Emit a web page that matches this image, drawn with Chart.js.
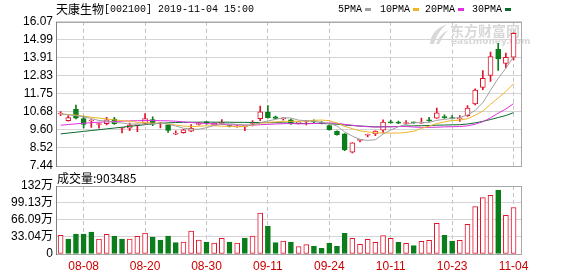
<!DOCTYPE html>
<html>
<head>
<meta charset="utf-8">
<script src="https://cdn.jsdelivr.net/npm/chart.js@4/dist/chart.umd.min.js"></script>
<style>
  body { margin: 0; background: #fff; width: 578px; height: 276px; overflow: hidden; position: relative; }
  canvas { position: absolute; left: 0; }
  #kline { top: 0; }
  #volume { top: 168px; }
</style>
</head>
<body>
<canvas id="kline" width="578" height="178"></canvas>
<canvas id="volume" width="578" height="108"></canvas>
<script>
// 天康生物 002100, daily bars 2019-08-05 .. 2019-11-04
const dates = ['08-05','08-06','08-07','08-08','08-09','08-12','08-13','08-14','08-15','08-16',
  '08-19','08-20','08-21','08-22','08-23','08-26','08-27','08-28','08-29','08-30',
  '09-02','09-03','09-04','09-05','09-06','09-09','09-10','09-11','09-12','09-16',
  '09-17','09-18','09-19','09-20','09-23','09-24','09-25','09-26','09-27','09-30',
  '10-08','10-09','10-10','10-11','10-14','10-15','10-16','10-17','10-18','10-21',
  '10-22','10-23','10-24','10-25','10-28','10-29','10-30','10-31','11-01','11-04'];
const tickDates = ['08-08','08-20','08-30','09-11','09-24','10-11','10-23','11-04'];

const open  = [10.55,10.15,10.83,10.28,10.13, 9.92, 9.97,10.25, 9.70, 9.70,
  9.88, 9.98,10.22, 9.95, 9.88, 9.34, 9.43, 9.52, 9.93,10.05,
  9.90, 9.98, 9.85, 9.78, 9.78, 9.98,10.27,10.66,10.38,10.25,
  10.20,10.00,10.10,10.12,10.05, 9.85, 9.52, 9.36, 8.26, 8.97,
  9.28, 9.36, 9.58,10.06,10.05, 9.98,10.05,10.00,10.18,10.30,
  10.40,10.33,10.25,10.45,11.15,12.14,12.85,14.42,13.58,13.95];
const high  = [10.70,10.45,11.08,10.42,10.22,10.00,10.35,10.35, 9.76,10.00,
  9.95,10.58,10.38,10.05, 9.92, 9.55, 9.64, 9.92,10.05,10.10,
  10.02,10.22, 9.87, 9.86, 9.84,10.15,11.03,11.05,10.42,10.33,
  10.25,10.08,10.17,10.20,10.10, 9.90, 9.55, 9.38, 8.84, 9.02,
  9.35, 9.55,10.20,10.18,10.12,10.15,10.07,10.30,10.35,10.90,
  10.50,10.45,10.45,11.05,12.05,13.15,14.25,14.78,14.20,15.40];
const low   = [10.45,10.12,10.25, 9.72, 9.75, 9.70, 9.90, 9.93, 9.42, 9.55,
  9.50, 9.95, 9.85, 9.72, 9.45, 9.32, 9.40, 9.50, 9.88, 9.92,
  9.86, 9.95, 9.78, 9.76, 9.55, 9.83,10.15,10.30,10.25,10.18,
  9.92, 9.95, 9.90,10.02, 9.95, 9.58, 9.28, 8.36, 8.22, 8.88,
  9.18, 9.26, 9.42,10.00, 9.97, 9.95, 9.98, 9.98,10.10,10.28,
  10.28,10.25,10.10,10.40,11.10,12.00,12.50,13.15,13.30,13.78];
const close = [10.60,10.33,10.30, 9.92,10.17, 9.97,10.20, 9.97, 9.74, 9.88,
  9.92,10.28, 9.95,10.00, 9.57, 9.37, 9.60, 9.70, 9.96,10.02,
  9.99,10.05, 9.80, 9.81, 9.82,10.05,10.68,10.33,10.28,10.29,
  9.97,10.05,10.15,10.08,10.00, 9.62, 9.32, 8.40, 8.82, 9.00,
  9.32, 9.53,10.07,10.02,10.00,10.02,10.02,10.05,10.14,10.62,
  10.33,10.28,10.30,10.90,11.98,12.68,13.98,13.85,13.94,15.38];

const ma5  = [10.55,10.50,10.45,10.38,10.28,10.16,10.13,10.05,10.01, 9.95,
  9.94, 9.96, 9.95,10.01, 9.94, 9.83, 9.70, 9.65, 9.64, 9.73,
  9.86, 9.95, 9.97, 9.93, 9.89, 9.90,10.03,10.13,10.23,10.33,
  10.31,10.18,10.15,10.11,10.05, 9.98, 9.83, 9.48, 9.23, 9.03,
  8.97, 9.01, 9.35, 9.59, 9.79, 9.93,10.03,10.03,10.05,10.17,
  10.23,10.29,10.34,10.49,10.76,11.23,11.97,12.68,13.29,13.97];
const ma10 = [10.55,10.52,10.48,10.42,10.36,10.30,10.25,10.20,10.15,10.12,
  10.05,10.05,10.00,10.01, 9.95, 9.89, 9.83, 9.80, 9.82, 9.84,
  9.85, 9.82, 9.81, 9.79, 9.81, 9.88, 9.99,10.05,10.08,10.11,
  10.11,10.11,10.14,10.17,10.19,10.15,10.01, 9.82, 9.67, 9.54,
  9.48, 9.42, 9.42, 9.41, 9.41, 9.45, 9.52, 9.69, 9.82, 9.98,
  10.08,10.16,10.18,10.27,10.47,10.73,11.13,11.51,11.89,12.36];
const ma20 = [9.88, 9.92, 9.96,10.00,10.03,10.06,10.08,10.10,10.12,10.14,
  10.15,10.16,10.16,10.15,10.14,10.12,10.08,10.04,10.01, 9.98,
  9.95, 9.93, 9.90, 9.90, 9.88, 9.88, 9.91, 9.93, 9.95, 9.97,
  9.98, 9.96, 9.97, 9.98,10.00,10.01,10.00, 9.93, 9.88, 9.82,
  9.79, 9.77, 9.78, 9.79, 9.80, 9.80, 9.77, 9.75, 9.75, 9.76,
  9.78, 9.79, 9.80, 9.84, 9.94,10.09,10.32,10.60,10.85,11.17];
const ma30 = [9.36, 9.41, 9.46, 9.51, 9.56, 9.61, 9.66, 9.71, 9.76, 9.81,
  9.86, 9.91, 9.96,10.00,10.02,10.04,10.05,10.06,10.06,10.07,
  10.06,10.06,10.06,10.05,10.05,10.04,10.04,10.03,10.03,10.02,
  10.00, 9.99, 9.98, 9.99, 9.98, 9.97, 9.94, 9.89, 9.86, 9.83,
  9.81, 9.78, 9.79, 9.79, 9.80, 9.83, 9.84, 9.85, 9.86, 9.88,
  9.89, 9.90, 9.91, 9.95,10.02,10.11,10.22,10.34,10.46,10.63];

// volume in 万 shares, and whether the volume bar is drawn as an up (hollow red) bar
const volume = [36.2,29.1,38.8,38.8,42.7,29.1,38.2,34.9,29.1,29.1,
  34.3,40.8,33.0,27.2,34.9,22.0,23.3,44.6,27.2,23.3,
  21.4,30.4,23.3,21.4,31.1,34.9,79.6,54.3,22.0,25.2,
  23.3,14.2,18.1,14.9,11.0,20.7,14.9,40.1,30.4,18.8,
  28.5,22.6,35.6,30.4,22.6,20.7,16.2,24.6,26.5,59.5,
  36.2,25.2,26.5,57.6,91.9,109.3,113.9,124.2,75.1,90.3485];
const volumeUp = [1,0,0,0,0,1,1,0,0,1, 1,1,0,0,0,0,1,1,1,0, 1,1,0,1,0,1,1,0,0,1,
  0,1,1,0,0,0,0,0,1,1, 1,1,1,1,0,1,0,1,1,1, 0,0,1,1,1,1,1,0,1,1];
const lastVolume = 903485;

const priceTicks = [7.44, 8.52, 9.60, 10.68, 11.75, 12.83, 13.91, 14.99, 16.07];
const priceTickLabels = ['7.44','8.52','9.60','10.68','11.75','12.83','13.91','14.99','16.07'];
const volumeTicks = [0, 33.04, 66.09, 99.13, 132];
const volumeTickLabels = ['0','33.04万','66.09万','99.13万','132万'];

const title = '天康生物[002100] 2019-11-04 15:00';
const maNames = ['5PMA', '10PMA', '20PMA', '30PMA'];
const maColors = ['#a0a0a0', '#f0b428', '#e030e0', '#0b6b2e'];

const RED = '#e0142c';
const GREEN = '#0b7d1b';
const GRID = '#d4d4d4';
const VGRID = '#c4c4c4';

Chart.defaults.font.family = '"Liberation Sans", "Noto Sans CJK SC", sans-serif';
Chart.defaults.font.size = 12;
Chart.defaults.color = '#000';

const xTicksFromDates = scale => {
  scale.ticks = tickDates.map(d => ({ value: dates.indexOf(d) }));
};

const frame = {
  id: 'frame',
  beforeDatasetsDraw(chart) {
    const { ctx, chartArea: a } = chart;
    ctx.save();
    ctx.strokeStyle = '#a8a8a8';
    ctx.lineWidth = 1;
    ctx.strokeRect(Math.round(a.left) + 0.5, Math.round(a.top) + 0.5,
      Math.round(a.right - a.left) - 1, Math.round(a.bottom - a.top));
    ctx.strokeStyle = '#808080';
    ctx.beginPath();
    ctx.moveTo(Math.round(a.left) + 0.5, Math.round(a.top));
    ctx.lineTo(Math.round(a.left) + 0.5, Math.round(a.bottom) + 1);
    ctx.stroke();
    ctx.restore();
  }
};

const header = {
  id: 'header',
  beforeDatasetsDraw(chart) {
    // eastmoney watermark: swoosh + name
    const ctx = chart.ctx;
    ctx.save();
    ctx.fillStyle = '#d8d8d8';
    ctx.beginPath();
    ctx.moveTo(430, 44);
    ctx.quadraticCurveTo(431, 30, 447, 24);
    ctx.quadraticCurveTo(437, 32, 434, 44);
    ctx.closePath();
    ctx.fill();
    ctx.beginPath();
    ctx.moveTo(436, 44);
    ctx.quadraticCurveTo(440, 34, 448, 30);
    ctx.quadraticCurveTo(442, 37, 439, 44);
    ctx.closePath();
    ctx.fill();
    ctx.textBaseline = 'middle';
    ctx.font = 'bold 14px "Noto Sans CJK SC"';
    ctx.fillText('东方财富网', 450, 31);
    ctx.font = 'bold 9px "DejaVu Sans"';
    ctx.fillText('eastmoney.com', 451, 42);
    ctx.restore();
  },
  afterDraw(chart) {
    const ctx = chart.ctx;
    ctx.save();
    ctx.fillStyle = '#000';
    ctx.textBaseline = 'middle';
    ctx.font = '12px "Noto Sans CJK SC"';
    const name = title.slice(0, 4);
    ctx.fillText(name, 56, 9);
    ctx.font = '10px "Liberation Mono"';
    ctx.fillText(title.slice(4), 104, 9.5);
    const xs = [338, 380, 425, 472];
    maNames.forEach((n, i) => {
      ctx.fillStyle = '#000';
      ctx.fillText(n, xs[i], 9.5);
      const w = ctx.measureText(n).width;
      ctx.fillStyle = maColors[i];
      ctx.fillRect(Math.round(xs[i] + w + 3), 8, 6, 3);
    });
    ctx.restore();
  }
};

const volumeHeader = {
  id: 'volumeHeader',
  afterDraw(chart) {
    const ctx = chart.ctx;
    ctx.save();
    ctx.fillStyle = '#000';
    ctx.textBaseline = 'middle';
    ctx.font = '12px "Noto Sans CJK SC"';
    ctx.fillText('成交量:' + lastVolume, 57, 10);
    ctx.restore();
  }
};

const isUp = i => close[i] >= open[i];

const maLine = (values, i) => ({
  type: 'line',
  label: maNames[i],
  data: values.map((v, k) => ({ x: k, y: v })),
  borderColor: maColors[i],
  borderWidth: 1,
  pointRadius: 0,
  tension: 0,
  order: 1
});

const dateAxis = showLabels => ({
  type: 'linear',
  offset: false,
  min: -0.6,
  max: 60.1,
  afterBuildTicks: xTicksFromDates,
  afterFit: s => { s.height = showLabels ? 22 : 0; },
  ticks: {
    display: showLabels,
    callback: v => dates[v],
    color: '#cc0000',
    padding: 5,
    maxRotation: 0,
    autoSkip: false
  },
  grid: { color: VGRID, drawTicks: false, offset: false },
  border: { display: false, dash: [4, 3] }
});

const valueAxis = (min, max, ticks, labels) => ({
  min: min,
  max: max,
  afterBuildTicks: s => { s.ticks = ticks.map(v => ({ value: v })); },
  afterFit: s => { s.width = 56; },
  ticks: { callback: (v, i) => labels[i], padding: 3, color: '#000', autoSkip: false },
  grid: { color: GRID, drawTicks: false },
  border: { display: false }
});

new Chart(document.getElementById('kline'), {
  data: {
    datasets: [
      {
        type: 'bar',
        label: 'wick',
        data: dates.map((d, i) => ({ x: i, y: [low[i], high[i]] })),
        backgroundColor: dates.map((d, i) => isUp(i) ? RED : GREEN),
        barThickness: 1,
        grouped: false,
        order: 3
      },
      {
        type: 'bar',
        label: 'body',
        data: dates.map((d, i) => ({ x: i, y: [open[i], close[i]] })),
        backgroundColor: dates.map((d, i) => isUp(i) ? '#fff' : GREEN),
        borderColor: dates.map((d, i) => isUp(i) ? RED : GREEN),
        borderWidth: 1,
        borderSkipped: false,
        minBarLength: 1,
        barThickness: 5,
        grouped: false,
        order: 2
      },
      maLine(ma5, 0), maLine(ma10, 1), maLine(ma20, 2), maLine(ma30, 3)
    ]
  },
  options: {
    responsive: false,
    animation: false,
    devicePixelRatio: 1,
    layout: { padding: { top: 21.7, bottom: 12, left: 0, right: 56 } },
    plugins: { legend: { display: false }, tooltip: { enabled: false } },
    scales: {
      x: dateAxis(false),
      y: valueAxis(7.44, 16.07, priceTicks, priceTickLabels)
    }
  },
  plugins: [frame, header]
});

new Chart(document.getElementById('volume'), {
  type: 'bar',
  data: {
    datasets: [{
      label: '成交量',
      data: volume.map((v, i) => ({ x: i, y: v })),
      backgroundColor: volumeUp.map(u => u ? '#fff' : GREEN),
      borderColor: volumeUp.map(u => u ? RED : GREEN),
      borderWidth: 1,
      borderSkipped: false,
      barThickness: 5,
      grouped: false
    }]
  },
  options: {
    responsive: false,
    animation: false,
    devicePixelRatio: 1,
    layout: { padding: { top: 18, bottom: 0, left: 0, right: 56 } },
    plugins: { legend: { display: false }, tooltip: { enabled: false } },
    scales: {
      x: dateAxis(true),
      y: valueAxis(0, 132, volumeTicks, volumeTickLabels)
    }
  },
  plugins: [frame, volumeHeader]
});
</script>
</body>
</html>
